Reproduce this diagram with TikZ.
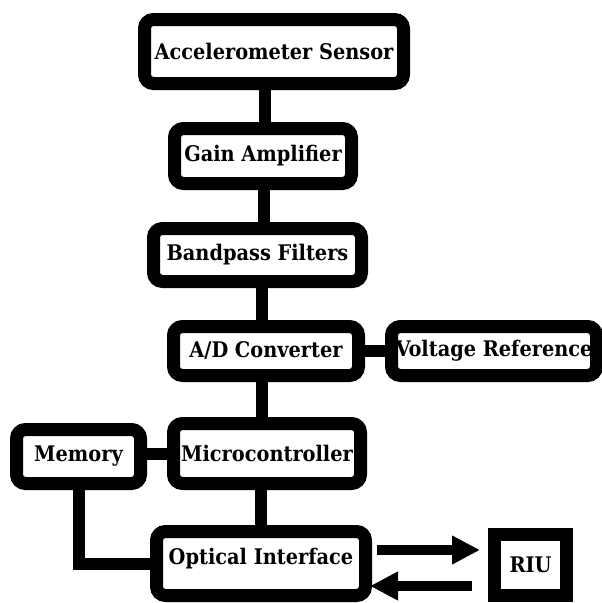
\documentclass[tikz,border=0pt]{standalone}
\usepackage{fontspec}
\setmainfont{DejaVu Serif Condensed}
\usetikzlibrary{arrows.meta}
\begin{document}
\begin{tikzpicture}[x=1pt,y=-1pt,
  lbl/.style={font=\fontsize{21.5}{23}\selectfont\bfseries},
  blk/.style={draw=black,line width=13pt,rounded corners=9pt,fill=white,inner sep=0pt,lbl},
  sq/.style={draw=black,line width=13pt,fill=white,inner sep=0pt,lbl},
  link/.style={line width=12pt},
  arr/.style={line width=10pt,-{Triangle[length=28pt,width=27pt]}}]
\useasboundingbox (0,0) rectangle (602,603);
\node[blk,minimum width=259pt,minimum height=64pt] (acc) at (274,51.5) {Accelerometer Sensor};
\node[blk,minimum width=177pt,minimum height=55pt] (gain) at (263,156) {Gain Amplifier};
\node[blk,minimum width=208pt,minimum height=53pt] (band) at (257.5,255) {Bandpass Filters};
\node[blk,minimum width=185pt,minimum height=49pt] (ad) at (266,351) {A/D Converter};
\node[blk,minimum width=205pt,minimum height=49pt] (vref) at (494,351) {Voltage Reference};
\node[blk,minimum width=124pt,minimum height=54pt] (mem) at (78.5,456.5) {Memory};
\node[blk,minimum width=187pt,minimum height=60pt] (mc) at (267,453.5) {Microcontroller};
\node[blk,minimum width=209pt,minimum height=64pt] (opt) at (261,563.5) {};
\node[lbl] (optt) at (261,559) {Optical Interface};
\node[sq,minimum width=72pt,minimum height=61pt] (riu) at (530.5,565) {RIU};
\draw[link] (acc.south -| 265,0) -- (gain.north -| 265,0);
\draw[link] (gain.south -| 264,0) -- (band.north -| 264,0);
\draw[link] (band.south -| 262,0) -- (ad.north -| 262,0);
\draw[link] (ad.south -| 262,0) -- (mc.north -| 262,0);
\draw[link] (mc.south -| 261,0) -- (opt.north -| 261,0);
\draw[link] (ad.east) -- (vref.west);
\draw[link] (mem.east |- mc.west) -- (mc.west);
\draw[link] (mem.south) |- (opt.west);
\draw[arr] ([xshift=5pt,yshift=13.5pt]opt.east) -- ([yshift=15pt,xshift=-8pt]riu.west);
\draw[arr] ([xshift=-16pt,yshift=-21pt]riu.west) -- ([xshift=-2pt,yshift=-22.5pt]opt.east);
\end{tikzpicture}
\end{document}
